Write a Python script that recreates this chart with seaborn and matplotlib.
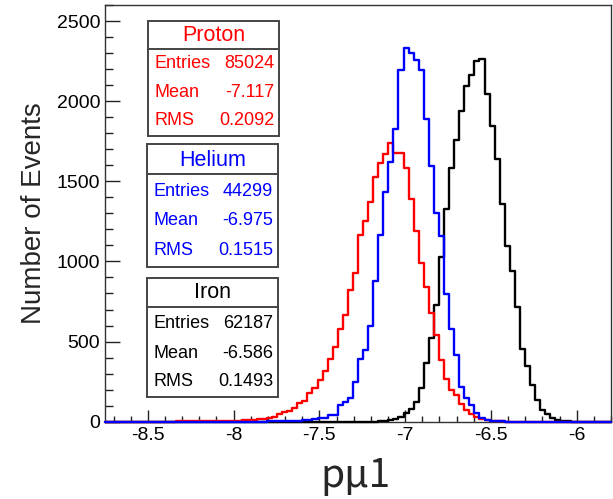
import numpy as np
import pandas as pd
import matplotlib
matplotlib.use("Agg")
import matplotlib.pyplot as plt
import seaborn as sns
from matplotlib.patches import Rectangle
from matplotlib.lines import Line2D
from matplotlib.ticker import MultipleLocator, FixedLocator

# ---------------- data ----------------
X_MIN, X_MAX, N_BINS = -8.75, -5.8, 100

proton_start = 10
proton_counts = [1, 1, 1, 1, 2, 2, 2, 2, 3, 3, 3, 4, 4, 5, 5, 6,
                 7, 8, 10, 13, 15, 18, 26, 31, 46, 60, 66,
                 88, 114, 130, 177, 208, 258, 318, 392, 468, 580, 665, 819, 929,
                 1164, 1255, 1368, 1527, 1615, 1671, 1739, 1677, 1677, 1580, 1387,
                 1190, 990, 842, 677, 540, 382, 268, 198, 166, 110, 76, 51, 28, 19,
                 12, 7, 4, 2, 1]

helium_start = 30
helium_counts = [1, 1, 2, 2, 3, 3, 4, 5, 6, 9, 12, 16, 20, 25,
                 42, 44, 103, 125, 146, 249, 394, 445, 600, 880, 1164, 1434, 1618,
                 1829, 2197, 2332, 2298, 2259, 2195, 1888, 1597, 1302, 1160, 798,
                 577, 419, 218, 146, 104, 53, 23, 12, 6, 3, 2, 1]

iron_start = 54
iron_counts = [2, 4, 8, 15, 30, 52, 78, 120, 208, 364, 520, 727, 1029, 1330,
               1586, 1756, 1939, 2095, 2161, 2250, 2265, 2043, 1843, 1636, 1360,
               1095, 938, 718, 453, 350, 229, 138, 73, 46, 26, 12, 6, 3, 1]

series_names = ["Proton", "Helium", "Iron"]
series_colors = ["#ff0000", "#0000ff", "#000000"]
stat_entries = ["85024", "44299", "62187"]
stat_means = ["-7.117", "-6.975", "-6.586"]
stat_rms = ["0.2092", "0.1515", "0.1493"]

x_ticks = [-8.5, -8, -7.5, -7, -6.5, -6]
x_tick_labels = ["-8.5", "-8", "-7.5", "-7", "-6.5", "-6"]
y_ticks = [0, 500, 1000, 1500, 2000, 2500]
y_tick_labels = ["0", "500", "1000", "1500", "2000", "2500"]
x_label = "pμ1"
y_label = "Number of Events"

# ---------------- build table (step outline: bin left edges + final edge) ----------------
edges = np.linspace(X_MIN, X_MAX, N_BINS + 1)
rows = []
for name, start, counts in [("Proton", proton_start, proton_counts),
                            ("Helium", helium_start, helium_counts),
                            ("Iron", iron_start, iron_counts)]:
    full = np.zeros(N_BINS)
    full[start:start + len(counts)] = counts
    heights = np.append(full, full[-1])
    rows.append(pd.DataFrame({"edge": edges, "count": heights, "species": name}))
df = pd.concat(rows, ignore_index=True)

# ---------------- style ----------------
sns.set_theme(style="ticks")
plt.rcParams["font.family"] = ["Liberation Sans", "DejaVu Sans"]

W, H = 613, 499
fig = plt.figure(figsize=(W / 100, H / 100), dpi=100)
ax_l, ax_r, ax_t, ax_b = 105, 611, 5, 421.7
ax = fig.add_axes([ax_l / W, 1 - ax_b / H, (ax_r - ax_l) / W, (ax_b - ax_t) / H])

color_of = dict(zip(series_names, series_colors))
zo = 3
for name in ["Iron", "Proton", "Helium"]:
    n_before = len(ax.lines)
    sub = df[df["species"] == name]
    sns.lineplot(data=sub, x="edge", y="count", drawstyle="steps-post",
                 estimator=None, sort=False, color=color_of[name],
                 linewidth=1.7, ax=ax)
    for ln in ax.lines[n_before:]:
        ln.set_zorder(zo)
        ln.set_clip_on(False)
    zo += 1

ax.set_xlim(X_MIN, X_MAX)
ax.set_ylim(0, 2600)
ax.xaxis.set_major_locator(FixedLocator(x_ticks))
ax.set_xticklabels(x_tick_labels)
ax.yaxis.set_major_locator(FixedLocator(y_ticks))
ax.set_yticklabels(y_tick_labels)
ax.xaxis.set_minor_locator(MultipleLocator(0.1))
ax.yaxis.set_minor_locator(MultipleLocator(100))
ax.tick_params(axis="both", which="both", direction="in", top=False, right=False,
               colors="#222222", labelcolor="black", labelsize=14, width=1)
ax.tick_params(axis="y", which="major", length=10.5, pad=3.5)
ax.tick_params(axis="y", which="minor", length=5.8)
ax.tick_params(axis="x", which="major", length=8.5, pad=3.5)
ax.tick_params(axis="x", which="minor", length=4.3)
for s in ax.spines.values():
    s.set_visible(True)
    s.set_color("#333333")
    s.set_linewidth(1.0)
    s.set_zorder(2)

ax.set_ylabel(y_label, fontsize=20, va="center")
ax.yaxis.set_label_coords((34 - ax_l) / (ax_r - ax_l), 0.5)
ax.set_xlabel(x_label, fontsize=28, family=["Noto Sans CJK SC", "DejaVu Sans"])
ax.xaxis.label.set_va("baseline")
ax.xaxis.set_label_coords((355 - ax_l) / (ax_r - ax_l), (ax_b - 486.7) / (ax_b - ax_t))

# ---------------- stat boxes ----------------
def fx(px):
    return px / W

def fy(py):
    return 1 - py / H

boxes = [
    # x0, x1, y0, y1, divider, title_y, row_ys
    (147.7, 279.3, 21.0, 135.7, 49.3, 35.5, [64.0, 92.5, 120.8]),
    (146.7, 278.3, 144.0, 267.3, 174.3, 160.0, [191.0, 220.7, 251.0]),
    (146.7, 278.3, 278.3, 397.3, 307.3, 292.5, [323.0, 353.0, 382.0]),
]
for i, (x0, x1, y0, y1, dv, ty, rys) in enumerate(boxes):
    col = series_colors[i]
    fig.add_artist(Rectangle((fx(x0), fy(y1)), fx(x1) - fx(x0), fy(y0) - fy(y1),
                             transform=fig.transFigure, facecolor="white",
                             edgecolor="#444444", linewidth=1.4, zorder=5))
    fig.add_artist(Line2D([fx(x0), fx(x1)], [fy(dv), fy(dv)], transform=fig.transFigure,
                          color="#444444", linewidth=1.4, zorder=6))
    fig.text(fx((x0 + x1) / 2), fy(ty), series_names[i], color=col, fontsize=15.5,
             ha="center", va="center", zorder=7)
    labels = ["Entries", "Mean", "RMS"]
    vals = [stat_entries[i], stat_means[i], stat_rms[i]]
    for lab, val, ry in zip(labels, vals, rys):
        fig.text(fx(x0 + 7), fy(ry), lab, color=col, fontsize=13, ha="left",
                 va="center", zorder=7)
        fig.text(fx(x1 - 5), fy(ry), val, color=col, fontsize=13, ha="right",
                 va="center", zorder=7)

fig.savefig("out.png", dpi=100)
